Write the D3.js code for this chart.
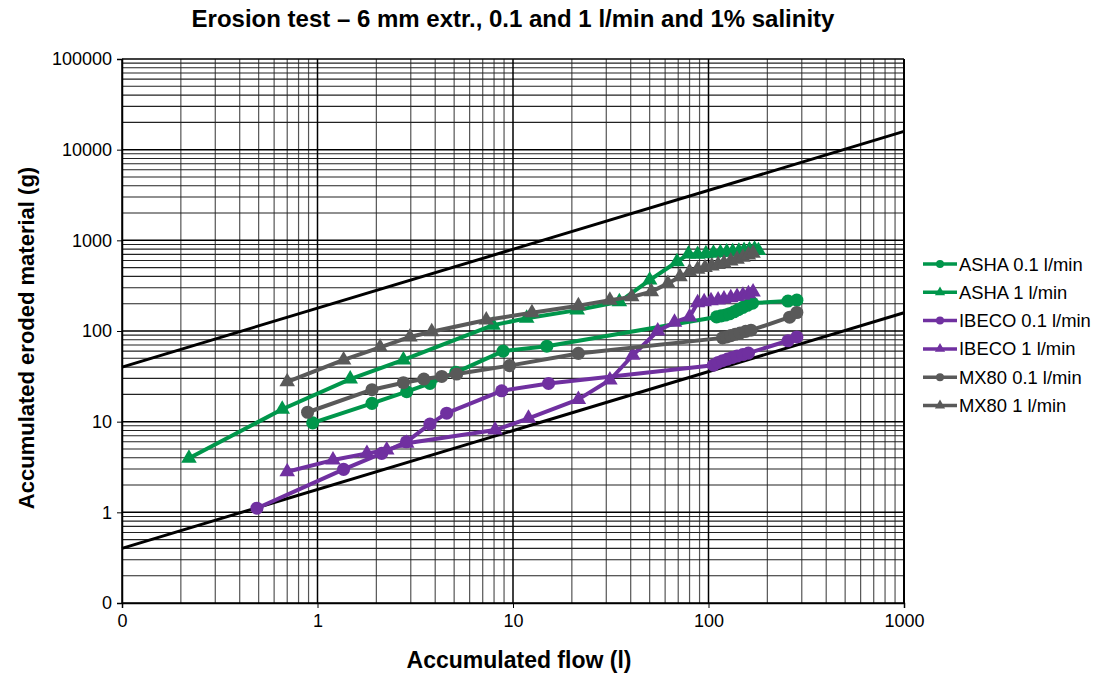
<!DOCTYPE html>
<html>
<head>
<meta charset="utf-8">
<script src="https://cdn.jsdelivr.net/npm/d3@7"></script>
<style>
  body { margin: 0; background: #fff; }
  svg text { font-family: "Liberation Sans", Arial, sans-serif; }
</style>
</head>
<body>
<div id="chart"></div>
<script>
// data: [accumulated flow (l), accumulated eroded material (g)]
const ashaLow = [[0.945, 9.7], [1.9, 15.9], [2.86, 21.4], [3.76, 26.4], [5.1, 35], [8.9, 60], [14.9, 68],
  [110, 143], [116, 147], [122, 150], [128, 155], [135, 163], [142, 172], [150, 182], [158, 192], [168, 203], [255, 214], [283, 219]];
const ashaHigh = [[0.22, 3.94], [0.66, 13.7], [1.47, 29.5], [2.75, 48], [7.9, 116], [11.75, 138], [21.3, 170], [35, 210],
  [50, 364], [69, 580], [79, 705], [88, 700], [97, 712], [106, 722], [115, 732], [124, 742], [133, 750], [143, 760], [152, 772], [162, 785], [172, 800], [180, 770]];
const ibecoLow = [[0.49, 1.11], [1.36, 2.98], [2.13, 4.47], [2.85, 6.0], [3.76, 9.4], [4.58, 12.4], [8.75, 21.9], [15.2, 26.4],
  [106, 42], [112, 45], [118, 47], [125, 49], [132, 51], [140, 53], [150, 55], [160, 57], [255, 78], [283, 86]];
const ibecoHigh = [[0.7, 2.8], [1.2, 3.77], [1.79, 4.47], [2.26, 4.86], [2.86, 5.77], [8.1, 8.08], [12, 10.9], [21.6, 17.6], [31.3, 28.8],
  [41, 54], [55, 100], [67, 125], [80, 143], [88, 205], [95, 210], [103, 215], [112, 220], [120, 225], [130, 232], [140, 240], [150, 248], [160, 258], [169, 270]];
const mxLow = [[0.89, 12.7], [1.9, 22.5], [2.75, 26.9], [3.5, 29.5], [4.32, 31.5], [5.15, 33.5], [9.6, 41.5], [21.6, 56.6],
  [118, 84], [124, 86], [130, 89], [137, 92], [145, 95], [155, 99], [165, 102], [260, 142], [283, 160]];
const mxHigh = [[0.7, 27.5], [1.36, 48], [2.09, 66], [2.97, 86], [3.84, 98], [7.3, 132], [12.5, 159], [21.6, 190], [31.3, 219],
  [40.5, 238], [51, 271], [62, 335], [71.5, 396], [80, 450], [88, 480], [96, 500], [104, 520], [112, 540], [120, 560], [130, 590], [140, 620], [150, 650], [160, 690], [169, 720]];

// the two black reference lines, end points
const refUpper = [[0.1, 40], [1000, 15900]];
const refLower = [[0.1, 0.4], [1000, 159]];

const seriesNames = ["ASHA 0.1 l/min", "ASHA 1 l/min", "IBECO 0.1 l/min", "IBECO 1 l/min", "MX80 0.1 l/min", "MX80 1 l/min"];
const xTicks = [0.1, 1, 10, 100, 1000];
const yTicks = [0.1, 1, 10, 100, 1000, 10000, 100000];

const green = "#00964b", purple = "#7030a0", gray = "#595959";
const series = [
  {name: seriesNames[0], data: ashaLow, color: green, shape: "circle"},
  {name: seriesNames[1], data: ashaHigh, color: green, shape: "triangle"},
  {name: seriesNames[2], data: ibecoLow, color: purple, shape: "circle"},
  {name: seriesNames[3], data: ibecoHigh, color: purple, shape: "triangle"},
  {name: seriesNames[4], data: mxLow, color: gray, shape: "circle"},
  {name: seriesNames[5], data: mxHigh, color: gray, shape: "triangle"}
];

const width = 1099, height = 675;
const margin = {top: 59, right: 195, bottom: 72, left: 122};
const w = width - margin.left - margin.right;   // 782
const h = height - margin.top - margin.bottom;  // 544

const svg = d3.select("#chart").append("svg")
  .attr("width", width).attr("height", height);

const g = svg.append("g").attr("transform", `translate(${margin.left},${margin.top})`);

const x = d3.scaleLog().domain([0.1, 1000]).range([0, w]);
const y = d3.scaleLog().domain([0.1, 100000]).range([h, 0]);

// minor values between decades
const minorX = [], minorY = [];
for (let e = -1; e < 3; e++) for (let k = 2; k <= 9; k++) minorX.push(k * Math.pow(10, e));
for (let e = -1; e < 5; e++) for (let k = 2; k <= 9; k++) minorY.push(k * Math.pow(10, e));

// grid
g.append("g").selectAll("line").data(minorX).join("line")
  .attr("x1", d => x(d)).attr("x2", d => x(d)).attr("y1", 0).attr("y2", h)
  .attr("stroke", "#555").attr("stroke-width", 1.2);
g.append("g").selectAll("line").data(minorY).join("line")
  .attr("x1", 0).attr("x2", w).attr("y1", d => y(d)).attr("y2", d => y(d))
  .attr("stroke", "#222").attr("stroke-width", 1.1);
g.append("g").selectAll("line").data(xTicks).join("line")
  .attr("x1", d => x(d)).attr("x2", d => x(d)).attr("y1", 0).attr("y2", h)
  .attr("stroke", "#000").attr("stroke-width", 1.5);
g.append("g").selectAll("line").data(yTicks).join("line")
  .attr("x1", 0).attr("x2", w).attr("y1", d => y(d)).attr("y2", d => y(d))
  .attr("stroke", "#000").attr("stroke-width", 1.5);

// right border
g.append("line").attr("x1", w).attr("x2", w).attr("y1", 0).attr("y2", h)
  .attr("stroke", "#000").attr("stroke-width", 2);

// axes
const fmt = d => d < 1 ? "0" : String(d);
const xAxis = g.append("g").attr("transform", `translate(0,${h})`)
  .call(d3.axisBottom(x).tickValues(xTicks).tickFormat(fmt).tickSize(5).tickPadding(6));
const yAxis = g.append("g")
  .call(d3.axisLeft(y).tickValues(yTicks).tickFormat(fmt).tickSize(5).tickPadding(5));
[xAxis, yAxis].forEach(a => {
  a.select(".domain").attr("stroke", "#000").attr("stroke-width", 1.5);
  a.selectAll(".tick line").attr("stroke", "#000");
  a.selectAll(".tick text").attr("fill", "#000").style("font-size", "18px");
});

// reference lines
const line = d3.line().x(d => x(d[0])).y(d => y(d[1]));
[refUpper, refLower].forEach(r => {
  g.append("path").datum(r).attr("d", line)
    .attr("fill", "none").attr("stroke", "#000").attr("stroke-width", 3);
});

// series
const sym = {circle: d3.symbolCircle, triangle: d3.symbolTriangle};
const symSize = {circle: 135, triangle: 105};
series.forEach(s => {
  g.append("path").datum(s.data).attr("d", line)
    .attr("fill", "none").attr("stroke", s.color).attr("stroke-width", 4)
    .attr("stroke-linejoin", "round");
  g.append("g").selectAll("path").data(s.data).join("path")
    .attr("transform", d => `translate(${x(d[0])},${y(d[1])})`)
    .attr("d", d3.symbol().type(sym[s.shape]).size(symSize[s.shape]))
    .attr("fill", s.color);
});

// title and axis titles
svg.append("text").attr("x", 513).attr("y", 27).attr("text-anchor", "middle")
  .style("font-size", "24px").style("font-weight", "bold")
  .text("Erosion test – 6 mm extr., 0.1 and 1 l/min and 1% salinity");
svg.append("text").attr("x", 519).attr("y", 668).attr("text-anchor", "middle")
  .style("font-size", "23px").style("font-weight", "bold")
  .text("Accumulated flow (l)");
svg.append("text").attr("transform", "translate(34,338) rotate(-90)").attr("text-anchor", "middle")
  .style("font-size", "22px").style("font-weight", "bold")
  .text("Accumulated eroded material (g)");

// legend
const legend = svg.append("g").attr("transform", "translate(923,264)");
series.forEach((s, i) => {
  const row = legend.append("g").attr("transform", `translate(0,${i * 28.3})`);
  row.append("line").attr("x1", 0).attr("x2", 34).attr("y1", 0).attr("y2", 0)
    .attr("stroke", s.color).attr("stroke-width", 3.5);
  row.append("path").attr("transform", "translate(17,0)")
    .attr("d", d3.symbol().type(sym[s.shape]).size(s.shape === "circle" ? 50 : 45))
    .attr("fill", s.color);
  row.append("text").attr("x", 36).attr("y", 6.5).style("font-size", "18.4px").text(s.name);
});
</script>
</body>
</html>
